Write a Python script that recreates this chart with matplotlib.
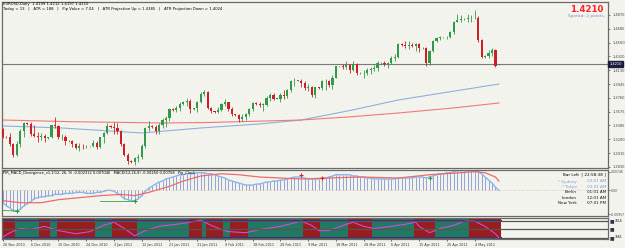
import matplotlib
matplotlib.use('Agg')
import matplotlib.pyplot as plt
import numpy as np

# EURUSD daily bars 26 Nov 2010 .. 12 May 2011 (feed with Sunday bars)
opens = [1.3340, 1.3240, 1.3230, 1.3140, 1.2990, 1.3140, 1.3320, 1.3420, 1.3410, 1.3270,
         1.3250, 1.3230, 1.3250, 1.3220, 1.3230, 1.3390, 1.3380, 1.3230, 1.3240, 1.3180,
         1.3180, 1.3140, 1.3090, 1.3120, 1.3110, 1.3110, 1.3115, 1.3160, 1.3100, 1.3230,
         1.3290, 1.3380, 1.3370, 1.3350, 1.3310, 1.3140, 1.3000, 1.2910, 1.2900, 1.2950,
         1.2970, 1.3120, 1.3360, 1.3380, 1.3370, 1.3320, 1.3390, 1.3460, 1.3490, 1.3610,
         1.3600, 1.3620, 1.3680, 1.3700, 1.3720, 1.3610, 1.3620, 1.3700, 1.3810, 1.3840,
         1.3620, 1.3580, 1.3570, 1.3600, 1.3680, 1.3700, 1.3610, 1.3540, 1.3530, 1.3480,
         1.3500, 1.3550, 1.3610, 1.3690, 1.3680, 1.3670, 1.3670, 1.3760, 1.3800, 1.3750,
         1.3750, 1.3800, 1.3790, 1.3860, 1.3980, 1.3990, 1.3990, 1.3960, 1.3890, 1.3910,
         1.3800, 1.3900, 1.3890, 1.3980, 1.3990, 1.3930, 1.4030, 1.4180, 1.4180, 1.4170,
         1.4200, 1.4130, 1.4220, 1.4090, 1.4090, 1.4090, 1.4130, 1.4150, 1.4160, 1.4230,
         1.4230, 1.4220, 1.4230, 1.4300, 1.4310, 1.4480, 1.4470, 1.4460, 1.4470, 1.4450,
         1.4480, 1.4430, 1.4430, 1.4230, 1.4390, 1.4520, 1.4560, 1.4570, 1.4570, 1.4580,
         1.4640, 1.4780, 1.4800, 1.4810, 1.4820, 1.4830, 1.4830, 1.4830, 1.4530, 1.4310,
         1.4320, 1.4360, 1.4400, 1.4199]
highs = [1.3360, 1.3250, 1.3290, 1.3160, 1.3180, 1.3340, 1.3440, 1.3430, 1.3440, 1.3400,
         1.3300, 1.3290, 1.3270, 1.3240, 1.3400, 1.3500, 1.3400, 1.3270, 1.3260, 1.3190,
         1.3200, 1.3160, 1.3150, 1.3140, 1.3130, 1.3120, 1.3190, 1.3180, 1.3240, 1.3300,
         1.3420, 1.3390, 1.3430, 1.3420, 1.3330, 1.3160, 1.3020, 1.2930, 1.2970, 1.3010,
         1.3140, 1.3370, 1.3450, 1.3390, 1.3390, 1.3420, 1.3490, 1.3520, 1.3630, 1.3620,
         1.3650, 1.3700, 1.3720, 1.3760, 1.3740, 1.3630, 1.3720, 1.3840, 1.3860, 1.3850,
         1.3640, 1.3590, 1.3640, 1.3690, 1.3750, 1.3710, 1.3640, 1.3550, 1.3550, 1.3550,
         1.3560, 1.3630, 1.3710, 1.3700, 1.3700, 1.3690, 1.3790, 1.3820, 1.3830, 1.3760,
         1.3820, 1.3860, 1.3880, 1.4000, 1.4030, 1.4000, 1.4010, 1.3980, 1.3940, 1.3920,
         1.3910, 1.3910, 1.4000, 1.4010, 1.4000, 1.4060, 1.4190, 1.4190, 1.4220, 1.4250,
         1.4210, 1.4250, 1.4230, 1.4100, 1.4130, 1.4160, 1.4170, 1.4200, 1.4250, 1.4240,
         1.4250, 1.4240, 1.4320, 1.4350, 1.4490, 1.4490, 1.4520, 1.4520, 1.4500, 1.4500,
         1.4490, 1.4440, 1.4440, 1.4400, 1.4540, 1.4580, 1.4590, 1.4580, 1.4590, 1.4660,
         1.4790, 1.4880, 1.4870, 1.4830, 1.4880, 1.4870, 1.4940, 1.4850, 1.4550, 1.4330,
         1.4400, 1.4430, 1.4420, 1.4212]
lows = [1.3220, 1.3220, 1.3120, 1.2970, 1.2980, 1.3100, 1.3240, 1.3400, 1.3250, 1.3230,
        1.3170, 1.3200, 1.3170, 1.3210, 1.3220, 1.3360, 1.3210, 1.3190, 1.3130, 1.3170,
        1.3100, 1.3070, 1.3050, 1.3080, 1.3090, 1.3100, 1.3100, 1.3080, 1.3090, 1.3160,
        1.3280, 1.3360, 1.3280, 1.3280, 1.3120, 1.2980, 1.2870, 1.2890, 1.2860, 1.2900,
        1.2940, 1.3090, 1.3310, 1.3360, 1.3280, 1.3280, 1.3360, 1.3370, 1.3450, 1.3590,
        1.3570, 1.3590, 1.3660, 1.3650, 1.3560, 1.3600, 1.3570, 1.3690, 1.3790, 1.3610,
        1.3560, 1.3560, 1.3560, 1.3590, 1.3650, 1.3580, 1.3520, 1.3520, 1.3440, 1.3450,
        1.3460, 1.3520, 1.3590, 1.3670, 1.3640, 1.3590, 1.3650, 1.3720, 1.3730, 1.3740,
        1.3700, 1.3750, 1.3760, 1.3840, 1.3920, 1.3980, 1.3910, 1.3860, 1.3850, 1.3770,
        1.3760, 1.3880, 1.3870, 1.3860, 1.3900, 1.3880, 1.4020, 1.4170, 1.4140, 1.4150,
        1.4090, 1.4120, 1.4060, 1.4080, 1.4030, 1.4060, 1.4080, 1.4120, 1.4120, 1.4220,
        1.4180, 1.4160, 1.4210, 1.4250, 1.4300, 1.4460, 1.4430, 1.4420, 1.4440, 1.4390,
        1.4380, 1.4420, 1.4180, 1.4200, 1.4380, 1.4510, 1.4540, 1.4560, 1.4550, 1.4560,
        1.4620, 1.4770, 1.4780, 1.4800, 1.4780, 1.4780, 1.4810, 1.4510, 1.4300, 1.4300,
        1.4300, 1.4320, 1.4170, 1.4197]
closes = [1.3240, 1.3230, 1.3140, 1.2990, 1.3140, 1.3320, 1.3420, 1.3410, 1.3270, 1.3250,
          1.3230, 1.3250, 1.3220, 1.3230, 1.3390, 1.3380, 1.3230, 1.3240, 1.3180, 1.3180,
          1.3140, 1.3090, 1.3120, 1.3110, 1.3110, 1.3115, 1.3160, 1.3100, 1.3230, 1.3290,
          1.3380, 1.3370, 1.3350, 1.3310, 1.3140, 1.3000, 1.2910, 1.2900, 1.2950, 1.2970,
          1.3120, 1.3360, 1.3380, 1.3370, 1.3320, 1.3390, 1.3460, 1.3490, 1.3610, 1.3600,
          1.3620, 1.3680, 1.3700, 1.3720, 1.3610, 1.3620, 1.3700, 1.3810, 1.3840, 1.3620,
          1.3580, 1.3570, 1.3600, 1.3680, 1.3700, 1.3610, 1.3540, 1.3530, 1.3480, 1.3500,
          1.3550, 1.3610, 1.3690, 1.3680, 1.3670, 1.3670, 1.3760, 1.3800, 1.3750, 1.3750,
          1.3800, 1.3790, 1.3860, 1.3980, 1.3990, 1.3990, 1.3960, 1.3890, 1.3910, 1.3800,
          1.3900, 1.3890, 1.3980, 1.3990, 1.3930, 1.4030, 1.4180, 1.4180, 1.4170, 1.4200,
          1.4130, 1.4220, 1.4090, 1.4090, 1.4090, 1.4130, 1.4150, 1.4160, 1.4230, 1.4230,
          1.4220, 1.4230, 1.4300, 1.4310, 1.4480, 1.4470, 1.4460, 1.4470, 1.4450, 1.4480,
          1.4430, 1.4430, 1.4230, 1.4390, 1.4520, 1.4560, 1.4570, 1.4570, 1.4580, 1.4640,
          1.4780, 1.4800, 1.4810, 1.4820, 1.4830, 1.4830, 1.4830, 1.4530, 1.4310, 1.4320,
          1.4360, 1.4400, 1.4190, 1.4210]

date_bars = [0, 8, 16, 24, 32, 40, 48, 56, 64, 72, 80, 88, 96, 104, 112, 120, 128, 136]
date_labels = ['26 Nov 2010', '6 Dec 2010', '15 Dec 2010', '24 Dec 2010', '3 Jan 2011',
               '12 Jan 2011', '21 Jan 2011', '31 Jan 2011', '9 Feb 2011', '18 Feb 2011',
               '28 Feb 2011', '9 Mar 2011', '18 Mar 2011', '28 Mar 2011', '6 Apr 2011',
               '15 Apr 2011', '25 Apr 2011', '4 May 2011']

price_ticks = [1.4870, 1.4685, 1.4500, 1.4315, 1.4130, 1.3945, 1.3760, 1.3575,
               1.3390, 1.3205, 1.3020, 1.2835]
price_labels = ['1.4870', '1.4685', '1.4500', '1.4320', '1.4130', '1.3945', '1.3760',
                '1.3575', '1.3385', '1.3200', '1.3015', '1.2830']
last_price = 1.4210

# moving averages
ma_blue_bars = [0, 17, 40, 57, 74, 86, 100, 114, 130, 143]
ma_blue = [1.3383, 1.3356, 1.3289, 1.3356, 1.3410, 1.3463, 1.3590, 1.3731, 1.3850, 1.3945]
ma_red_bars = [0, 20, 46, 60, 86, 100, 114, 130, 143]
ma_red = [1.3463, 1.3440, 1.3423, 1.3430, 1.3463, 1.3505, 1.3557, 1.3625, 1.3691]

# MACD panel
macd_main = [-0.0049, -0.0062, -0.0070, -0.0082, -0.0082, -0.0074, -0.0062, -0.0053, -0.0045, -0.0033,
             -0.0029, -0.0025, -0.0025, -0.0021, -0.0021, -0.0016, -0.0016, -0.0016, -0.0012, -0.0012,
             -0.0012, -0.0008, -0.0008, -0.0008, -0.0012, -0.0012, -0.0012, -0.0008, -0.0008, -0.0004,
             0.0000, 0.0000, -0.0004, -0.0012, -0.0021, -0.0033, -0.0037, -0.0041, -0.0041, -0.0033,
             -0.0021, -0.0004, 0.0008, 0.0016, 0.0025, 0.0033, 0.0037, 0.0045, 0.0049, 0.0053,
             0.0057, 0.0062, 0.0062, 0.0066, 0.0066, 0.0066, 0.0070, 0.0070, 0.0070, 0.0066,
             0.0066, 0.0062, 0.0057, 0.0053, 0.0049, 0.0041, 0.0037, 0.0033, 0.0029, 0.0025,
             0.0021, 0.0021, 0.0021, 0.0025, 0.0025, 0.0029, 0.0033, 0.0033, 0.0037, 0.0037,
             0.0041, 0.0041, 0.0045, 0.0049, 0.0053, 0.0053, 0.0053, 0.0049, 0.0045, 0.0045,
             0.0045, 0.0045, 0.0049, 0.0049, 0.0053, 0.0057, 0.0062, 0.0062, 0.0062, 0.0062,
             0.0062, 0.0057, 0.0057, 0.0053, 0.0053, 0.0049, 0.0049, 0.0045, 0.0045, 0.0045,
             0.0045, 0.0045, 0.0045, 0.0045, 0.0049, 0.0049, 0.0049, 0.0049, 0.0049, 0.0053,
             0.0053, 0.0053, 0.0049, 0.0053, 0.0057, 0.0062, 0.0066, 0.0066, 0.0070, 0.0070,
             0.0074, 0.0078, 0.0078, 0.0078, 0.0078, 0.0078, 0.0078, 0.0074, 0.0066, 0.0053,
             0.0041, 0.0029, 0.0012, 0.0000]
signal_bars = [0, 5, 11, 16, 22, 28, 34, 38, 42, 48, 52, 57, 63, 68, 74, 80, 86,
               94, 103, 114, 123, 132, 136, 139, 142, 143]
signal = [-0.0041, -0.0049, -0.0049, -0.0037, -0.0029, -0.0021, -0.0016, -0.0021, -0.0008,
          0.0016, 0.0037, 0.0057, 0.0066, 0.0062, 0.0053, 0.0049, 0.0045, 0.0049, 0.0053,
          0.0049, 0.0062, 0.0070, 0.0074, 0.0070, 0.0053, 0.0037]
macd_top, macd_bottom = 0.00748, -0.00957
# divergence marks: (bar, value)
bull_div_bars = [[0, 4], [28, 38]]
bull_div_vals = [[-0.0080, -0.0082], [-0.0041, -0.0041]]
bear_marks = [(86, 0.0060), (92, 0.0050)]
bull_marks = [(4, -0.0082), (38, -0.0041), (123, 0.0050)]

# bottom trend panel: block edges (bar index), first block red then alternating
block_edges = [0, 4, 11, 14, 16, 27, 32, 39, 54, 58, 59, 64, 66, 71, 87, 92, 100, 107,
               119, 125, 135, 144]
osc_bars = [0, 2, 5, 8, 12, 16, 21, 25, 29, 32, 35, 38, 41, 45, 50, 54, 57, 60, 63, 65,
            70, 74, 80, 86, 89, 91, 94, 99, 101, 104, 107, 112, 116, 119, 120, 123, 126,
            130, 133, 136, 139, 142, 143]
osc = [10, 30, 50, 45, 60, 40, 25, 35, 65, 80, 50, 15, 40, 60, 70, 80, 90, 65, 45, 35,
       30, 45, 60, 85, 65, 40, 40, 70, 80, 60, 50, 60, 70, 80, 60, 30, 50, 65, 85, 85,
       60, 25, 5]

W, H = 625, 248
BG = '#F4F4EF'
FRAME = '#6a6a6a'
BULL = '#2f9a4a'
BEAR = '#cc1f26'


def px_axes(x0, y0, x1, y1):
    a = fig.add_axes([x0 / W, 1 - y1 / H, (x1 - x0) / W, (y1 - y0) / H])
    a.patch.set_alpha(0)
    return a


def ftext(x, y, s, **kw):
    fig.text(x / W, 1 - y / H, s, **kw)


fig = plt.figure(figsize=(W / 100, H / 100), dpi=100)
fig.patch.set_facecolor(BG)

# faint dotted grid texture of the terminal window
bg_ax = fig.add_axes([0, 0, 1, 1], zorder=-5)
tex = np.ones((H, W, 3)) * np.array([244, 244, 239]) / 255.0
yy_, xx_ = np.mgrid[0:H, 0:W]
dots = ((xx_ + 3 * yy_) % 8 == 0) & (yy_ % 4 == 1)
tex[dots] = np.array([240, 224, 208]) / 255.0
bg_ax.imshow(tex, interpolation='nearest', aspect='auto')
bg_ax.axis('off')

xlim = (-0.29, 174.45)
n = len(closes)
bars = np.arange(n)

# ---- main price panel
ax = px_axes(2, 2, 608, 168)
ax.set_xlim(*xlim)
ax.set_ylim(1.28198, 1.50442)

o = np.array(opens)
c = np.array(closes)
cols = [BULL if c[i] >= o[i] else BEAR for i in range(n)]
ax.vlines(bars, lows, highs, colors=cols, lw=0.6, zorder=3)
body_low = np.minimum(o, c)
body_h = np.maximum(np.abs(c - o), 0.0003)
ax.bar(bars, body_h, bottom=body_low, width=0.62, color=cols, lw=0, zorder=4)

ax.plot(ma_blue_bars, ma_blue, color='#8fb0dc', lw=0.8, zorder=2)
ax.plot(ma_red_bars, ma_red, color='#f07a7a', lw=0.8, zorder=2)
ax.axhline(last_price, color='#7a7a7a', lw=0.8, zorder=1)

ax.yaxis.tick_right()
ax.set_yticks(price_ticks)
ax.set_yticklabels(price_labels, fontsize=2.6, color='#222222')
ax.tick_params(axis='y', length=1.5, width=0.5, pad=1.5, colors='#444444')
ax.set_xticks([])
for s in ax.spines.values():
    s.set_color(FRAME)
    s.set_linewidth(0.9)

ax.text(1.002, (last_price - 1.28198) / (1.50442 - 1.28198), '1.4210', transform=ax.transAxes,
        fontsize=2.6, color='white', va='center', ha='left',
        bbox=dict(boxstyle='square,pad=0.25', fc='#1c1c40', ec='#1c1c40'))

ftext(3, 4.5, 'EURUSD,Daily  1.4199 1.4212 1.4197 1.4210', fontsize=2.7, va='center')
ftext(3, 9, 'Today = 13   |   ATR = 188   |   Pip Value = 7.04   |   ATR Projection Up = 1.4385'
      '   |   ATR Projection Down = 1.4024', fontsize=2.7, va='center')
ftext(603, 9, '1.4210', fontsize=6.2, color='#ff2020', fontweight='bold', ha='right', va='center')
ftext(605, 15.5, 'Spread: 2 points.', fontsize=3.2, color='#6f8fc8', ha='right', va='center')

# ---- MACD panel
am = px_axes(2, 170, 608, 216)
am.set_xlim(*xlim)
am.set_ylim(macd_bottom - 0.0006, macd_top + 0.0006)
am.vlines(bars, 0, macd_main, colors='#4a66c4', lw=0.4)
am.plot(bars, macd_main, color='#8ab4ea', lw=1.0)
am.plot(signal_bars, signal, color='#f06a6a', lw=0.9)
am.axhline(0, color='#d8a888', lw=0.5, ls=(0, (1, 2)))
for bb, vv in zip(bull_div_bars, bull_div_vals):
    am.plot(bb, vv, color='#3aa040', lw=0.6)
for bb, vv in bull_marks:
    am.plot(bb, vv, marker='+', color='#2a9a30', ms=2.5, mew=0.8)
for bb, vv in bear_marks:
    am.plot(bb, vv, marker='+', color='#e02020', ms=2.5, mew=0.8)
am.yaxis.tick_right()
am.set_yticks([macd_top, 0, macd_bottom])
am.set_yticklabels(['0.00748', '0.00', '-0.00957'], fontsize=2.2)
am.tick_params(axis='y', length=1.2, width=0.5, pad=0.8, colors='#444444')
am.set_xticks([])
for s in am.spines.values():
    s.set_color(FRAME)
    s.set_linewidth(0.9)
am.text(0.002, 0.93, 'PIR_MACD_Divergence_v1.1(12, 26, 9) -0.002312 0.007046   '
        'MACD(12,26,9) -0.00250 0.00758   Pip_Clock', transform=am.transAxes,
        fontsize=2.6, va='center')

clock_names = ['Sydney', 'Tokyo', 'Berlin', 'London', 'New York']
clock_times = ['03:01 AM', '03:01 AM', '01:01 AM', '12:01 AM', '07:01 PM']
clock_cols = ['#7aa0d8', '#7aa0d8', '#111111', '#111111', '#111111']
ftext(606, 174.5, 'Bar Left  [ 22:58:38 ]', fontsize=3.0, ha='right', va='center')
for k in range(5):
    yy = 181.5 + k * 5.4
    name = ('* ' if k < 2 else '') + clock_names[k]
    ftext(577, yy, name, fontsize=3.0, ha='right', va='center', color=clock_cols[k])
    ftext(606, yy, clock_times[k], fontsize=3.0, ha='right', va='center', color=clock_cols[k])

# ---- bottom trend panel
ab = px_axes(2, 218, 608, 239)
ab.set_xlim(*xlim)
ab.set_ylim(0, 100)
for k in range(len(block_edges) - 1):
    col = '#9a1c1c' if k % 2 == 0 else '#1f7a62'
    ab.axvspan(block_edges[k] - 0.5, block_edges[k + 1] - 0.5, color=col, lw=0)
xm = (143.5 - xlim[0]) / (xlim[1] - xlim[0])
ab.axhline(92, xmax=xm, color='#3a2a8a', lw=0.8)
ab.axhline(8, xmax=xm, color='#3a2a8a', lw=0.8)
ab.plot(osc_bars, osc, color='#d848d8', lw=0.8)
for lv in [86, 48, 4]:
    ab.axhline(lv, color='#555555', lw=0.9)
ab.set_yticks([])
ab.set_xticks(date_bars)
ab.set_xticklabels(date_labels, fontsize=2.4, ha='left')
ab.tick_params(axis='x', length=1.5, width=0.5, pad=1.2, colors='#333333')
for s in ab.spines.values():
    s.set_color(FRAME)
    s.set_linewidth(0.9)

for yy, lab in [(221, '7614'), (229, ''), (237.5, '7661')]:
    ftext(610, yy, '\u25a0', fontsize=3.5, color='#333355', va='center')
    ftext(614.5, yy, lab, fontsize=2.2, va='center')

fig.savefig('out.png', dpi=100, facecolor=BG)
